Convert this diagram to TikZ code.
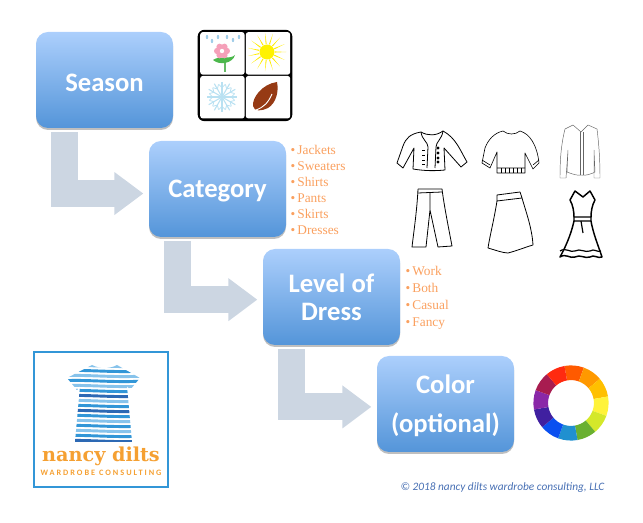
\documentclass[tikz,border=0pt]{standalone}
\usepackage{fontspec}
\setmainfont{Carlito}
\newfontfamily\listfont{Liberation Serif}
\newfontfamily\logofont{DejaVu Serif}
\newfontfamily\tagfont[LetterSpace=24]{Carlito}
\usetikzlibrary{arrows.meta, calc, shadows}
\definecolor{boxtop}{RGB}{172,207,252}
\definecolor{boxbot}{RGB}{84,149,217}
\definecolor{bentgray}{RGB}{204,214,226}
\definecolor{listorange}{RGB}{250,160,95}
\definecolor{logoorange}{RGB}{245,160,50}
\definecolor{logoblue}{RGB}{50,150,215}
\definecolor{logodark}{RGB}{45,105,180}
\definecolor{logopale}{RGB}{135,195,235}
\definecolor{creditblue}{RGB}{72,112,180}
\definecolor{snowblue}{RGB}{185,225,242}
\definecolor{dropblue}{RGB}{160,205,232}
\definecolor{petalpink}{RGB}{245,160,185}
\definecolor{leafbrown}{RGB}{150,58,20}
\newcommand{\droptext}[2]{\raisebox{-#1}[\height][\depth]{#2}}
\tikzstyle{stage} = [rectangle, rounded corners=9pt, minimum width=102.75pt, minimum height=72pt, text centered, align=center, text=white, font=\bfseries, top color=boxtop, bottom color=boxbot, drop shadow={shadow xshift=0pt, shadow yshift=-1.5pt, opacity=.25, fill=black}]
\tikzstyle{bent} = [draw=bentgray, line width=20.25pt, -{Triangle[length=21.75pt, width=30.75pt]}, shorten <=3pt, shorten >=4pt]
\tikzstyle{itemlist} = [anchor=west, align=left, inner sep=0pt, text=listorange, font=\listfont]
\tikzstyle{garment} = [draw=black, line width=.6pt, line join=round]

\begin{document}
\begin{tikzpicture}[x=.75pt, y=-.75pt, node distance=81pt]
\useasboundingbox (0,0) rectangle (643,523);

% stages
\node (season) [stage, font=\bfseries\fontsize{20pt}{24pt}\selectfont] at (104.5,80) {\droptext{2.25pt}{Season}};
\node (category) [stage, below of=season, xshift=84.75pt, yshift=-.75pt, font=\bfseries\fontsize{20pt}{24pt}\selectfont] {\droptext{1.5pt}{Category}};
\node (level) [stage, below of=category, xshift=85.5pt, font=\bfseries\fontsize{20pt}{21pt}\selectfont] {Level of\\Dress};
\node (color) [stage, below of=level, xshift=85.5pt, yshift=.75pt, font=\bfseries\fontsize{20pt}{29pt}\selectfont] {\droptext{1.5pt}{Color}\\\droptext{1.5pt}{(optional)}};

\draw [bent] ([xshift=21.4pt]season.south west) |- ([yshift=-3.4pt]category.west);
\draw [bent] ([xshift=21.9pt]category.south west) |- ([yshift=-2pt]level.west);
\draw [bent] ([xshift=21.4pt]level.south west) |- ([yshift=-2.2pt]color.west);

% lists
\node (catlist) [itemlist, font=\listfont\fontsize{10pt}{12pt}\selectfont] at ([xshift=3pt,yshift=-.75pt]category.east) {\textbullet\,Jackets\\\textbullet\,Sweaters\\\textbullet\,Shirts\\\textbullet\,Pants\\\textbullet\,Skirts\\\textbullet\,Dresses};
\node (levlist) [itemlist, font=\listfont\fontsize{10pt}{12.75pt}\selectfont] at ([xshift=3.75pt,yshift=-.75pt]level.east) {\textbullet\,Work\\\textbullet\,Both\\\textbullet\,Casual\\\textbullet\,Fancy};

% season tile
\node (tile) [fill=black, rounded corners=5pt, minimum width=71pt, minimum height=68.5pt, inner sep=0pt] at (245,75.5) {};
\foreach \x/\y in {222.4/53.4,268/53.4,222.4/97.2,268/97.2}
  \fill [white, rounded corners=2pt] (\x-22.2,\y-21.3) rectangle (\x+22.2,\y+21.3);
\foreach \x/\y in {207/37,212/41,218/37,227/37,233/40,239/37}
  \fill [dropblue] (\x,\y) ellipse [x radius=.9pt, y radius=1.6pt];
\coordinate (flower) at (222,51);
\draw [green!55!black!60, line width=.9pt] (225,54) -- (225,72);
\fill [green!60!black!70] (213,60) .. controls (220,55) and (230,60) .. (235,55) .. controls (233,63) and (220,66) .. (213,60) -- cycle;
\foreach \a in {0,60,...,300}
  \fill [petalpink] (flower) ++(\a:3.6pt) circle [radius=2.4pt];
\fill [white] (flower) circle [radius=1.6pt];
\coordinate (sun) at (267,52);
\foreach \a in {0,24,...,336}
  \fill [yellow!95!orange] ($(sun)+(\a-4:6pt)$) -- ($(sun)+(\a:14.5pt)$) -- ($(sun)+(\a+4:6pt)$) -- cycle;
\fill [yellow] (sun) circle [radius=5.6pt];
\coordinate (snow) at (222,97);
\foreach \a in {0,30,...,330} {
  \draw [snowblue, line width=.8pt] (snow) -- ++(\a:11.5pt);
  \draw [snowblue, line width=.6pt] (snow) ++(\a:7pt) -- ++(\a+45:3.5pt);
  \draw [snowblue, line width=.6pt] (snow) ++(\a:7pt) -- ++(\a-45:3.5pt);
}
\fill [leafbrown] (277,82) .. controls (262,84) and (252,98) .. (253,106) .. controls (254,112) and (262,111) .. (268,108) .. controls (276,103) and (279,92) .. (277,82) -- cycle;
\draw [white, line width=.7pt] (256,110) .. controls (264,107) and (268,103) .. (272,94);

% garments
\draw [garment] (421,132) .. controls (410,134) and (406,138) .. (403,146) -- (397,163) -- (403,168) -- (414,148) -- (413,169) .. controls (425,171) and (435,171) .. (445,170) -- (444,148) -- (461,167) -- (467,162) .. controls (460,150) and (456,138) .. (443,131) .. controls (436,136) and (428,136) .. (421,132) -- cycle;
\draw [garment] (421,132) .. controls (422,140) and (428,142) .. (428,147) -- (427,168);
\draw [garment] (443,131) .. controls (442,139) and (436,142) .. (436,147) -- (435,168);
\foreach \y in {150,155,160,164} {
  \draw [garment] (422,\y) -- (425,\y);
  \fill (438,\y-2) circle [radius=1.2pt];
}
\draw [garment, line width=.45pt] (503,131) .. controls (494,133) and (488,140) .. (485,148) -- (482,163) -- (490,168) -- (497,152) -- (497,173) -- (525,173) -- (525,153) -- (533,169) -- (539,163) .. controls (537,145) and (530,134) .. (520,131) .. controls (515,135) and (508,135) .. (503,131) -- cycle;
\draw [garment, line width=.45pt] (497,168) -- (525,168) (482,160) -- (490,165) (539,160) -- (533,165);
\foreach \x in {501,505,...,521} \draw [garment, line width=.3pt] (\x,168) -- (\x,173);
\draw [garment, black!60, line width=.35pt] (573,125) -- (565,129) .. controls (561,145) and (560,160) .. (560,178) -- (566,178) -- (568,150) -- (567,172) .. controls (572,174) and (578,176) .. (581,175) .. controls (586,176) and (591,174) .. (595,172) -- (594,150) -- (594,178) -- (600,178) .. controls (600,160) and (599,145) .. (597,129) -- (588,125) -- (581,132) -- cycle;
\draw [garment, black!60, line width=.35pt] (580,132) -- (580,175) (583,132) -- (583,175);
\draw [garment] (418,189) -- (442,189) (418,193) -- (442,192);
\draw [garment] (418,189) .. controls (417,210) and (414,230) .. (412,247) -- (426,247) -- (430,210) -- (438,247) -- (452,246) .. controls (448,225) and (444,205) .. (442,189) (430,193) -- (430,210);
\draw [garment] (497,195) -- (520,192) -- (522,198) -- (497,201) -- cycle;
\draw [garment] (497,201) .. controls (494,220) and (490,235) .. (488,248) .. controls (495,250) and (503,253) .. (508,253) .. controls (516,251) and (526,247) .. (533,245) .. controls (532,228) and (526,212) .. (522,198);
\draw [garment, line width=1.1pt] (575,191) -- (583,197) -- (590,191) -- (595,200) .. controls (592,205) and (591,212) .. (591,217) -- (574,217) .. controls (574,212) and (573,205) .. (570,200) -- cycle;
\draw [garment, line width=1.1pt] (574,217) -- (574,221) -- (591,221) -- (591,217) (574,221) .. controls (571,235) and (565,248) .. (560,257) .. controls (566,253) and (570,259) .. (575,257) .. controls (580,254) and (585,259) .. (590,257) .. controls (594,254) and (598,259) .. (602,257) .. controls (598,245) and (593,233) .. (591,221);
\draw [garment, line width=.9pt] (560,251) .. controls (566,247) and (570,253) .. (575,251) .. controls (580,248) and (585,253) .. (590,251) .. controls (594,248) and (598,253) .. (601,251) (581,221) -- (583,233);

% colour wheel
\coordinate (wheel) at (571,403);
\foreach \ang/\col in {85/FF5A00,55/FF9900,25/FFC000,-5/FFF33A,-35/D4E82A,-65/6AB030,-95/2090D0,-125/0A50F0,-155/4020A0,-185/8A28A8,-215/A81C50,-245/FF2A10} {
  \definecolor{wedge}{HTML}{\col}
  \fill [wedge] ($(wheel)+(\ang-15:28.2pt)$) arc [start angle=\ang-15, end angle=\ang+15, radius=28.2pt] -- ($(wheel)+(\ang+15:17.2pt)$) arc [start angle=\ang+15, end angle=\ang-15, radius=17.2pt] -- cycle;
}

% logo
\node (logo) [draw=logoblue, line width=1.8pt, minimum width=100.5pt, minimum height=101.5pt, inner sep=0pt] at (101,419.5) {};
\begin{scope}
  \clip (92,365) .. controls (100,369) and (110,369) .. (117,365) -- (140,378) -- (130,390) -- (127,386) -- (132,442) -- (75,442) -- (80,386) -- (77,390) -- (67,378) -- cycle;
  \foreach \y/\col in {366/logopale,371/logoblue,376/logopale,381/logoblue,386/logopale,391/logoblue,396/logodark,401/logopale,406/logoblue,411/logodark,416/logoblue,421/logopale,426/logoblue,431/logopale,436/logoblue,441/logodark}
    \draw [\col, line width=2.2pt] (60,\y) .. controls (85,\y-2) and (110,\y+2) .. (145,\y);
\end{scope}
\node (logoname) [text=logoorange, font=\logofont\bfseries\fontsize{14.4pt}{16pt}\selectfont, inner sep=0pt] at (101,456.5) {nancy dilts};
\node (logotag) [text=logoorange, font=\tagfont\bfseries\fontsize{6.2pt}{7pt}\selectfont, inner sep=0pt] at (101,473) {WARDROBE CONSULTING};

% credit
\node (credit) [text=creditblue, font=\itshape\fontsize{8.5pt}{10pt}\selectfont, inner sep=0pt] at (502.5,488) {© 2018 nancy dilts wardrobe consulting, LLC};
\end{tikzpicture}
\end{document}
